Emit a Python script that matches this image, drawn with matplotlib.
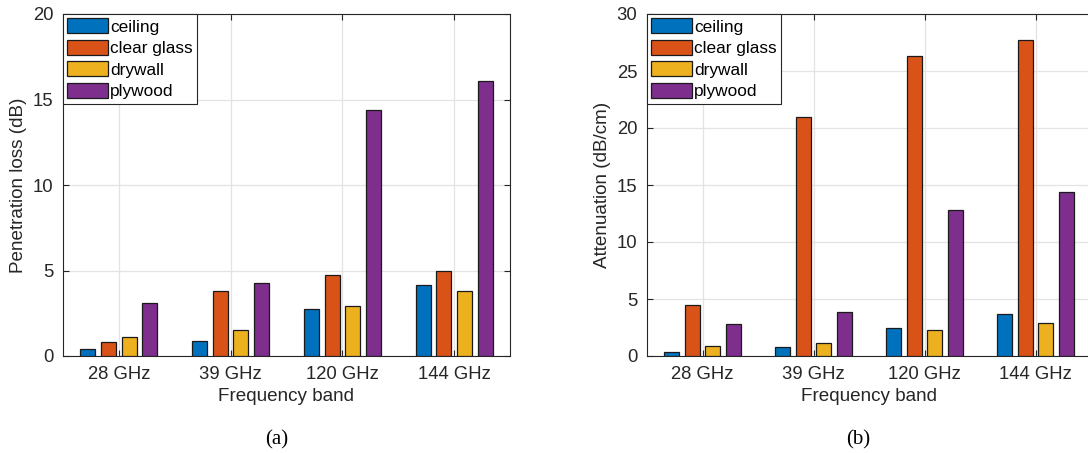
import matplotlib
matplotlib.use("Agg")
import matplotlib.pyplot as plt
import numpy as np

bands = ["28 GHz", "39 GHz", "120 GHz", "144 GHz"]
materials = ["ceiling", "clear glass", "drywall", "plywood"]
colors = ["#0072BD", "#D95319", "#EDB120", "#7E2F8E"]

# (a) Penetration loss (dB)
loss_ceiling = [0.41, 0.86, 2.73, 4.13]
loss_glass = [0.80, 3.78, 4.74, 4.99]
loss_drywall = [1.13, 1.50, 2.94, 3.82]
loss_plywood = [3.12, 4.29, 14.37, 16.10]

# (b) Attenuation (dB/cm)
att_ceiling = [0.38, 0.76, 2.43, 3.65]
att_glass = [4.44, 21.0, 26.3, 27.7]
att_drywall = [0.88, 1.17, 2.25, 2.92]
att_plywood = [2.81, 3.83, 12.84, 14.39]

plt.rcParams['font.family'] = ['Liberation Sans', 'DejaVu Sans']

fig = plt.figure(figsize=(10.88, 4.53), dpi=100)
axA = fig.add_axes([63/1088, 1-356/453, (510-63)/1088, (356-14)/453])
axB = fig.add_axes([647/1088, 1-356/453, (1091-647)/1088, (356-14)/453])

dark = "#262626"
offsets = [-0.2775, -0.0925, 0.0925, 0.2775]
width = 0.134
x = np.arange(1, len(bands) + 1)

def draw(ax, series, ymax, ylabel, right_ticks=True):
    for i, (vals, c, m) in enumerate(zip(series, colors, materials)):
        ax.bar(x + offsets[i], vals, width, color=c, edgecolor="#1a1a1a",
               linewidth=0.9, label=m, zorder=3)
    ax.set_xlim(0.5, 4.5)
    ax.set_ylim(0, ymax)
    ax.set_xticks(x)
    ax.set_xticklabels(bands)
    ax.set_yticks(np.arange(0, ymax + 0.1, 5))
    ax.grid(True, color="#e3e3e3", linewidth=0.9, zorder=0)
    ax.set_axisbelow(True)
    ax.tick_params(direction="in", length=4, width=0.8, top=True,
                   right=right_ticks, labelsize=13.3, colors=dark, pad=7)
    for s in ax.spines.values():
        s.set_color(dark)
        s.set_linewidth(0.8)
    ax.set_xlabel("Frequency band", fontsize=13.6, color=dark, labelpad=4)
    ax.set_ylabel(ylabel, fontsize=13.6, color=dark, labelpad=4)
    leg = ax.legend(loc="upper left", borderaxespad=0, fontsize=12.4,
                    handlelength=2.35, handleheight=0.95, handletextpad=0.15,
                    labelspacing=0.3, borderpad=0.25, fancybox=False,
                    framealpha=1, edgecolor=dark)
    leg.get_frame().set_linewidth(0.8)

draw(axA, [loss_ceiling, loss_glass, loss_drywall, loss_plywood], 20,
     "Penetration loss (dB)")
draw(axB, [att_ceiling, att_glass, att_drywall, att_plywood], 30,
     "Attenuation (dB/cm)", right_ticks=False)

fig.text(277/1088, 1-440/453, "(a)", ha="center", va="center",
         fontsize=15, family=["Liberation Serif", "DejaVu Serif"])
fig.text(858/1088, 1-440/453, "(b)", ha="center", va="center",
         fontsize=15, family=["Liberation Serif", "DejaVu Serif"])

fig.savefig("out.png", dpi=100)
